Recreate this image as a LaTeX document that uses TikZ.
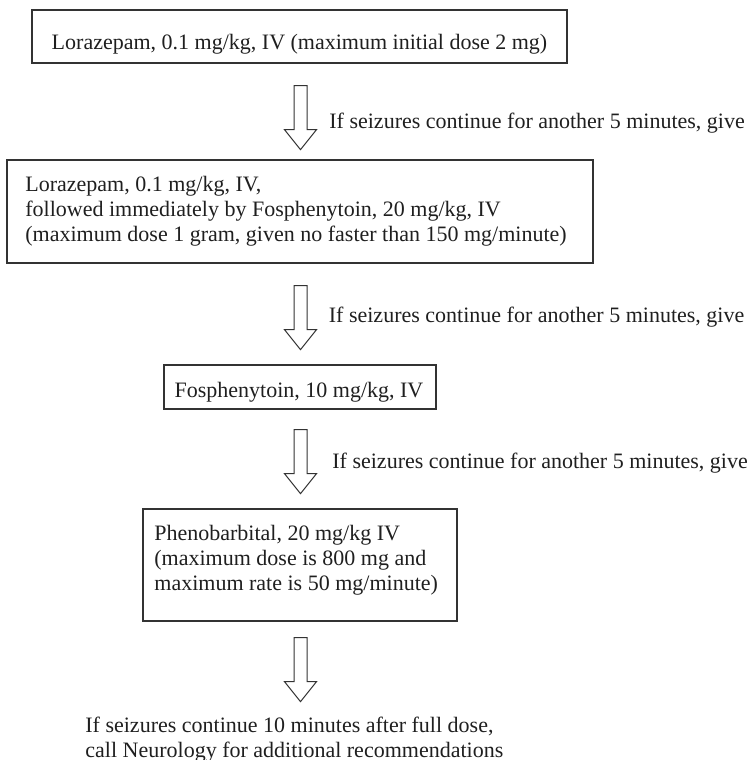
\documentclass[tikz,border=0pt]{standalone}
\usepackage{fontspec}
\setmainfont{Liberation Serif}
\usetikzlibrary{calc}
\begin{document}
\begin{tikzpicture}[x=0.5pt,y=-0.5pt,
  box/.style={draw=black!80, line width=0.65pt, inner sep=0pt},
  txt/.style={inner sep=0pt, font=\fontsize{11pt}{12.5pt}\selectfont, text=black!88},
  blockarrow/.style={draw=black!80, line width=0.5pt, line join=miter}]
\useasboundingbox (0,0) rectangle (749,760);

% boxes
\node[box, minimum width=267.5pt, minimum height=26.5pt] (b1) at (299.5,36.5) {};
\node[box, minimum width=293pt, minimum height=51.5pt] (b2) at (300,211.5) {};
\node[box, minimum width=136pt, minimum height=22pt] (b3) at (300,387) {};
\node[box, minimum width=157pt, minimum height=56pt] (b4) at (300,565) {};

% box texts
\node[txt, anchor=base] (t1) at (299.5,49.5) {Lorazepam, 0.1 mg/kg, IV (maximum initial dose 2 mg)};
\node[txt, anchor=north west, align=left] (t2) at (25,176) {Lorazepam, 0.1 mg/kg, IV,\\followed immediately by Fosphenytoin, 20 mg/kg, IV\\(maximum dose 1 gram, given no faster than 150 mg/minute)};
\node[txt, anchor=base] (t3) at (299,397) {Fosphenytoin, 10 mg/kg, IV};
\node[txt, anchor=north west, align=left] (t4) at (154,525) {Phenobarbital, 20 mg/kg IV\\(maximum dose is 800 mg and\\maximum rate is 50 mg/minute)};
\node[txt, anchor=north west, align=left] (t5) at (85,717) {If seizures continue 10 minutes after full dose,\\call Neurology for additional recommendations};

% arrow tops
\coordinate (a1) at ($(b1.south)+(1,22)$);
\coordinate (a2) at ($(b2.south)+(0.5,22)$);
\coordinate (a3) at ($(b3.south)+(0.5,20)$);
\coordinate (a4) at ($(b4.south)+(0.5,16)$);

\foreach \a in {a1,a2,a3,a4}{
  \draw[blockarrow] (\a) ++(-6.5,0) -- ++(0,44) -- ++(-9.5,0) -- ++(16,20) -- ++(16,-20) -- ++(-9.5,0) -- ++(0,-44) -- cycle;
}

% labels
\node[txt, anchor=base west] (l1) at (329,128.5) {If seizures continue for another 5 minutes, give};
\node[txt, anchor=base west] (l2) at (328.5,322) {If seizures continue for another 5 minutes, give};
\node[txt, anchor=base west] (l3) at (332,468) {If seizures continue for another 5 minutes, give};
\end{tikzpicture}
\end{document}
